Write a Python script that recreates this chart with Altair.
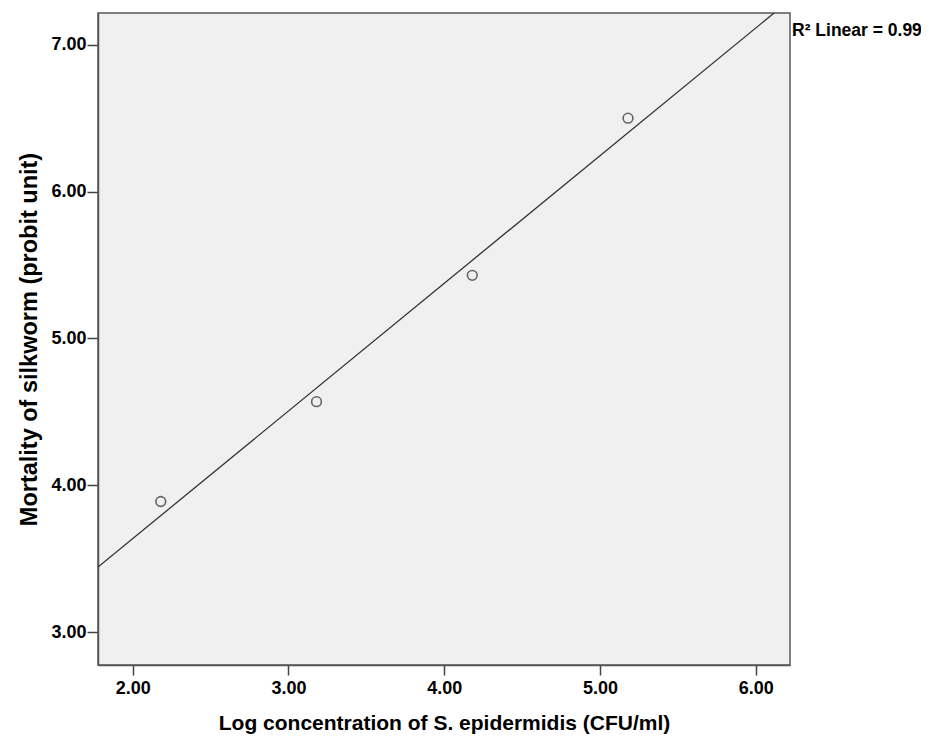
import altair as alt
import pandas as pd

log_conc = [2.18, 3.18, 4.18, 5.18]
mortality = [3.89, 4.57, 5.43, 6.50]
x_ticks = [2, 3, 4, 5, 6]
y_ticks = [3, 4, 5, 6, 7]
r2_label = "R² Linear = 0.99"

df = pd.DataFrame({"x": log_conc, "y": mortality})

X_DOM = [1.777, 6.22]
Y_DOM = [2.777, 7.216]
FONT = "Liberation Sans"

xenc = alt.X("x:Q", scale=alt.Scale(domain=X_DOM, nice=False, zero=False),
             axis=alt.Axis(values=x_ticks, format=".2f", grid=False,
                           title="Log concentration of S. epidermidis (CFU/ml)",
                           titleFontSize=21, titleFontWeight="bold", titleFont=FONT,
                           titlePadding=15, titleColor="#000",
                           labelFont=FONT, labelFontSize=18, labelFontWeight="bold",
                           labelColor="#000", labelPadding=4,
                           tickSize=10, tickColor="#444", tickWidth=1.5,
                           domainColor="#555", domainWidth=1.5))
yenc = alt.Y("y:Q", scale=alt.Scale(domain=Y_DOM, nice=False, zero=False),
             axis=alt.Axis(values=y_ticks, format=".2f", grid=False,
                           title="Mortality of silkworm (probit unit)",
                           titleFontSize=23.5, titleFontWeight="bold", titleFont=FONT,
                           titlePadding=9, titleColor="#000",
                           labelFont=FONT, labelFontSize=18, labelFontWeight="bold",
                           labelColor="#000", labelPadding=1,
                           tickSize=11, tickColor="#444", tickWidth=1.5,
                           domainColor="#555", domainWidth=1.5))

points = alt.Chart(df).mark_point(shape="circle", filled=False, size=95,
                                  color="#2a2a2a", strokeWidth=1.6).encode(x=xenc, y=yenc)

line = alt.Chart(df).transform_regression(
    "x", "y", extent=X_DOM
).mark_line(color="#333", strokeWidth=1.3, clip=True).encode(x=xenc, y=yenc)

label = alt.Chart(pd.DataFrame({"t": [r2_label]})).mark_text(
    align="left", baseline="middle", font=FONT, fontSize=17.5, fontWeight="bold",
    color="#000"
).encode(text="t:N", x=alt.value(694), y=alt.value(18))

chart = alt.layer(line, points, label).properties(
    width=692, height=652,
    autosize=alt.AutoSizeParams(type="none"),
    padding={"left": 90, "top": 5, "right": 131, "bottom": 70},
).configure_view(fill="#F0F0F0", stroke="#555", strokeWidth=1.5)

chart.save("out.html", embed_options={"renderer": "svg", "actions": False})
